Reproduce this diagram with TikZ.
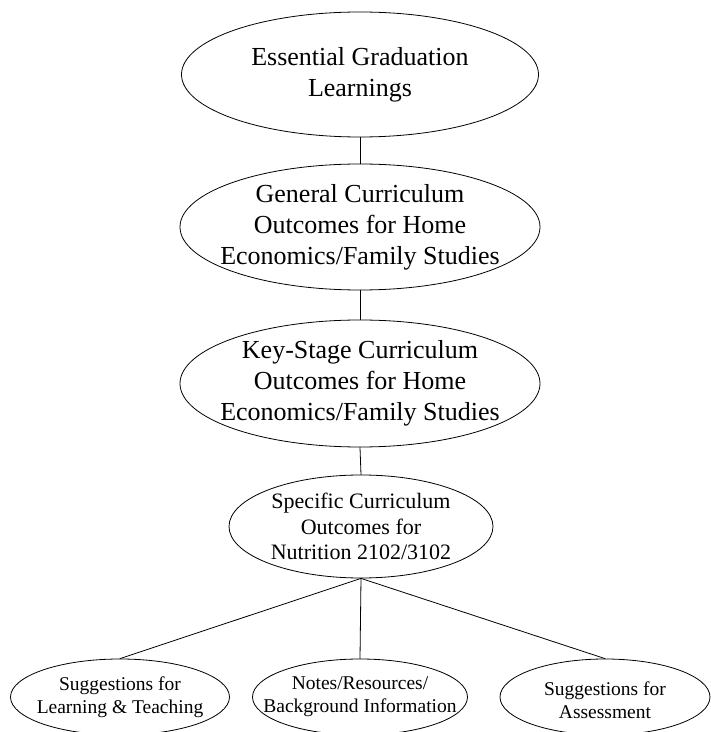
\documentclass[tikz,border=0pt]{standalone}
\usepackage{fontspec}
\setmainfont{Liberation Serif}
\usetikzlibrary{shapes.geometric}

\begin{document}
\begin{tikzpicture}[line cap=round,line join=round,x=1pt,y=1pt,
  oval/.style={draw,ellipse,line width=0.8pt,inner sep=0pt},
  bigtext/.style={align=center,inner sep=0pt,font=\fontsize{26}{31}\selectfont},
  midtext/.style={align=center,inner sep=0pt,font=\fontsize{22}{25.5}\selectfont},
  leaftext/.style={align=center,inner sep=0pt,font=\fontsize{19.5}{23}\selectfont},
  leaf/.style={oval,minimum height=76pt}]
\useasboundingbox (0,0) rectangle (711,732);
% outcome levels
\node [oval,minimum width=357pt,minimum height=125pt] (egl) at (360,657.5) {};
\node [bigtext] (egl-t) at (egl) {Essential Graduation\\Learnings};
\node [oval,minimum width=360pt,minimum height=126pt] (gco) at (360,505) {};
\node [bigtext] (gco-t) at (gco) {General Curriculum\\Outcomes for Home\\Economics/Family Studies};
\node [oval,minimum width=360pt,minimum height=127pt] (ksco) at (360,348.5) {};
\node [bigtext] (ksco-t) at (ksco) {Key-Stage Curriculum\\Outcomes for Home\\Economics/Family Studies};
\node [oval,minimum width=264pt,minimum height=103pt] (sco) at (361,205.5) {};
\node [midtext] (sco-t) at (sco) {Specific Curriculum\\Outcomes for\\Nutrition 2102/3102};
% supports
\node [leaf,minimum width=219pt] (slt) at (120,35) {};
\node [leaftext] (slt-t) at (slt) {Suggestions for\\Learning \& Teaching};
\node [leaf,minimum width=215pt] (nrb) at (360,35) {};
\node [leaftext] (nrb-t) at (nrb) {Notes/Resources/\\Background Information};
\node [leaf,minimum width=210pt] (sa) at (605,35) {};
\node [leaftext] (sa-t) at ([yshift=-3pt]sa) {Suggestions for\\Assessment};
\draw [line width=0.8pt] (egl.south) -- (gco.north);
\draw [line width=0.8pt] (gco.south) -- (ksco.north);
\draw [line width=0.8pt] (ksco.south) -- (sco.north);
\draw [line width=0.8pt] (sco.south) -- (slt.north);
\draw [line width=0.8pt] (sco.south) -- (nrb.north);
\draw [line width=0.8pt] (sco.south) -- (sa.north);
\end{tikzpicture}
\end{document}
